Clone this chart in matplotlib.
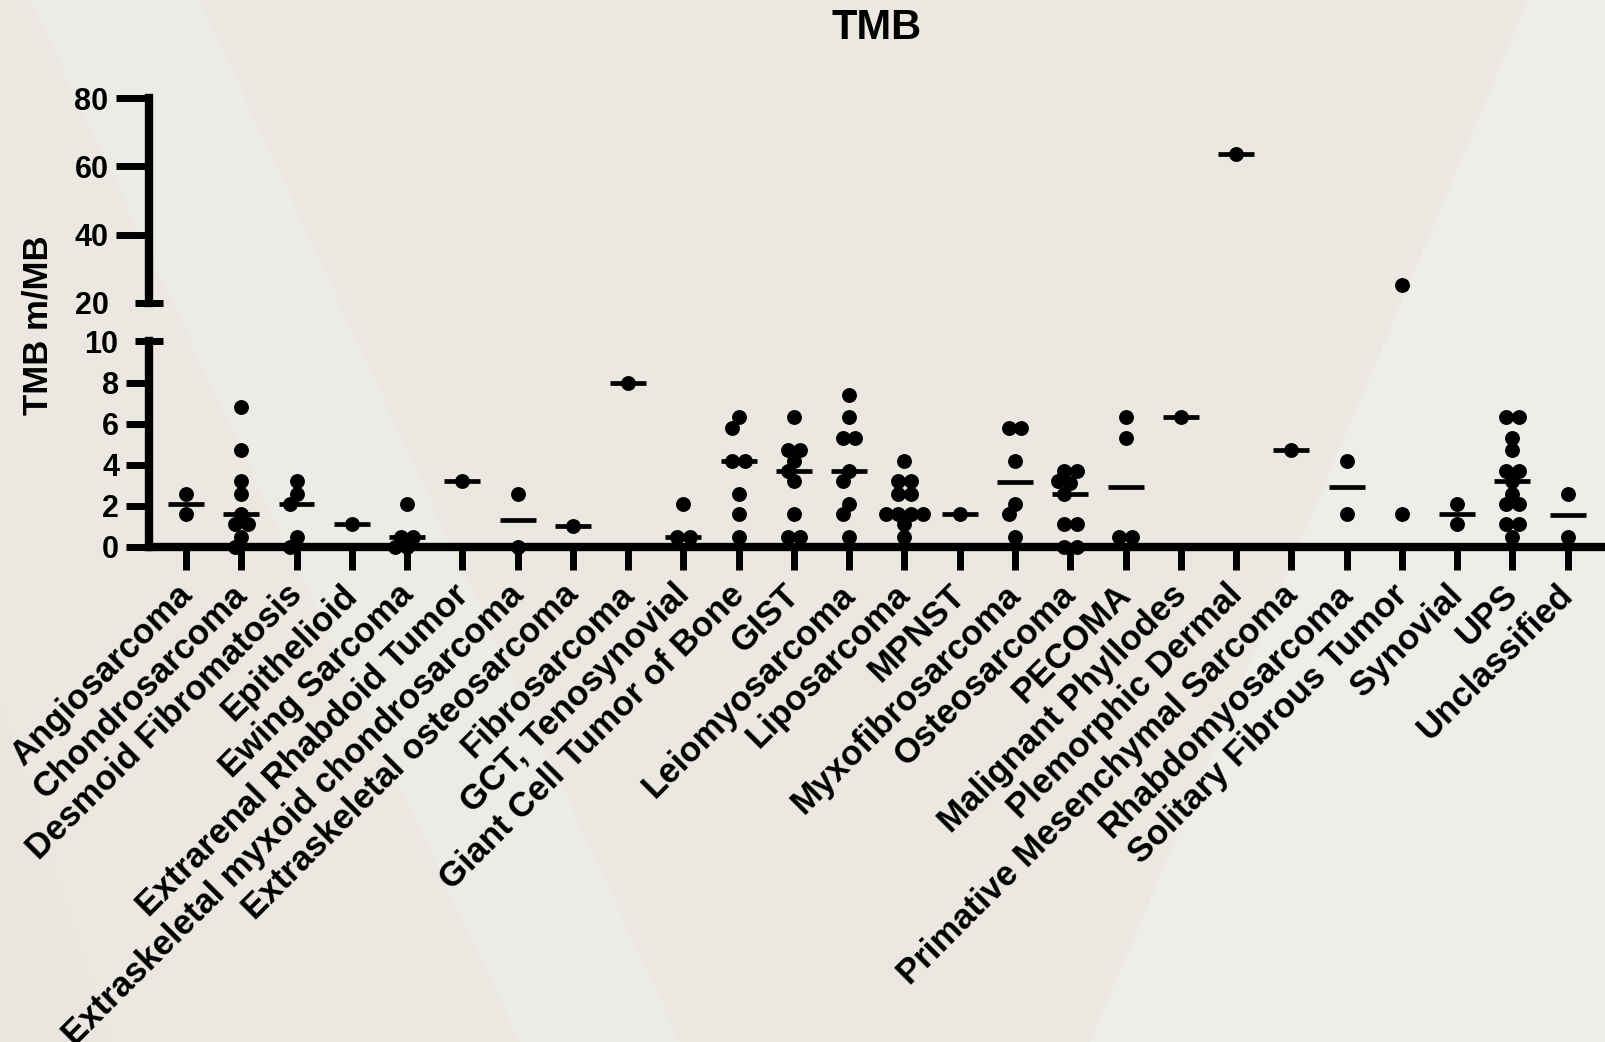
import numpy as np
import matplotlib
matplotlib.use("Agg")
import matplotlib.pyplot as plt
from matplotlib.patches import Polygon
from matplotlib.transforms import ScaledTranslation

# TMB per sarcoma subtype (m/MB)
categories = [
    "Angiosarcoma", "Chondrosarcoma", "Desmoid Fibromatosis", "Epithelioid",
    "Ewing Sarcoma", "Extrarenal Rhabdoid Tumor", "Extraskeletal myxoid chondrosarcoma",
    "Extraskeletal osteosarcoma", "Fibrosarcoma", "GCT, Tenosynovial",
    "Giant Cell Tumor of Bone", "GIST", "Leiomyosarcoma", "Liposarcoma", "MPNST",
    "Myxofibrosarcoma", "Osteosarcoma", "PECOMA", "Malignant Phyllodes",
    "Plemorphic Dermal", "Primative Mesenchymal Sarcoma", "Rhabdomyosarcoma",
    "Solitary Fibrous Tumor", "Synovial", "UPS", "Unclassified",
]

angiosarcoma = [2.6, 1.6]
chondrosarcoma = [6.8, 4.7, 3.2, 2.6, 1.6, 1.1, 1.1, 0.5, 0.0]
desmoid = [3.2, 2.6, 2.1, 0.5, 0.0]
epithelioid = [1.1]
ewing = [2.1, 0.5, 0.5, 0.0, 0.0]
extrarenal_rhabdoid = [3.2]
ext_myxoid_chondro = [2.6, 0.0]
ext_osteosarcoma = [1.0]
fibrosarcoma = [8.0]
gct_tenosynovial = [2.1, 0.5, 0.5]
gct_bone = [6.3, 5.8, 4.2, 4.2, 2.6, 1.6, 0.5]
gist = [6.3, 4.7, 4.7, 4.2, 3.7, 3.2, 1.6, 0.5, 0.5]
leiomyosarcoma = [7.4, 6.3, 5.3, 5.3, 3.7, 3.2, 2.1, 1.6, 0.5]
liposarcoma = [4.2, 3.2, 3.2, 2.6, 2.6, 1.6, 1.6, 1.6, 1.6, 1.1, 0.5]
mpnst = [1.6]
myxofibrosarcoma = [5.8, 5.8, 4.2, 2.1, 1.6, 0.5]
osteosarcoma = [3.7, 3.7, 3.2, 3.1, 2.6, 1.1, 1.1, 0.0, 0.0]
pecoma = [6.3, 5.3, 0.5, 0.5]
phyllodes = [6.3]
pleomorphic_dermal = [63.6]
primative_mesenchymal = [4.7]
rhabdomyosarcoma = [4.2, 1.6]
solitary_fibrous = [25.2, 1.6]
synovial = [2.1, 1.1]
ups = [6.3, 6.3, 5.3, 4.7, 3.7, 3.7, 3.2, 2.6, 2.1, 2.1, 1.1, 1.1, 0.5]
unclassified = [2.6, 0.5]

groups = [
    angiosarcoma, chondrosarcoma, desmoid, epithelioid, ewing, extrarenal_rhabdoid,
    ext_myxoid_chondro, ext_osteosarcoma, fibrosarcoma, gct_tenosynovial, gct_bone,
    gist, leiomyosarcoma, liposarcoma, mpnst, myxofibrosarcoma, osteosarcoma, pecoma,
    phyllodes, pleomorphic_dermal, primative_mesenchymal, rhabdomyosarcoma,
    solitary_fibrous, synovial, ups, unclassified,
]

low_ticks = [0, 2, 4, 6, 8]
high_ticks = [40, 60, 80]
low_lim = (0, 10)
high_lim = (20, 80)

plt.rcParams["font.family"] = ["Liberation Sans", "DejaVu Sans"]
plt.rcParams["font.weight"] = "bold"

W, H = 1605, 1042
fig = plt.figure(figsize=(W / 100, H / 100), dpi=100)
fig.patch.set_facecolor("#EBE8E2")


def px(x, y):
    return (x / W, 1 - y / H)


# faint watermark shapes in the background
for pts, col in [
    ([(1528, 0), (1605, 0), (1605, 1042), (1090, 1042)], "#EEEDE9"),
    ([(30, 0), (200, 0), (680, 1042), (520, 1042)], "#EDEBE6"),
    ([(0, 700), (0, 1042), (110, 1042)], "#E9E6E0"),
]:
    fig.add_artist(Polygon([px(*p) for p in pts], closed=True, transform=fig.transFigure,
                           facecolor=col, edgecolor="none", zorder=0))

left = 148.7 / W
ax_lo = fig.add_axes([left, 1 - 547 / H, 1 - left, 205.6 / H])
ax_hi = fig.add_axes([left, 1 - 302.7 / H, 1 - left, 204.4 / H])

step = 55.27
xlim = (-(186 - 148.7) / step, 25 + (W - 1567.7) / step)
spine_w = 6
tick_w = 5

for ax in (ax_lo, ax_hi):
    ax.set_facecolor("none")
    ax.set_xlim(*xlim)
    ax.spines["top"].set_visible(False)
    ax.spines["right"].set_visible(False)
    ax.spines["left"].set_linewidth(spine_w)

ax_lo.set_ylim(*low_lim)
ax_hi.set_ylim(*high_lim)
ax_lo.spines["bottom"].set_linewidth(spine_w)
ax_lo.spines["bottom"].set_capstyle("projecting")
ax_lo.spines["left"].set_capstyle("projecting")
ax_hi.spines["bottom"].set_visible(False)

# lower segment ticks, with the break mark at 10
ax_lo.set_yticks(low_ticks)
ax_lo.set_yticks([low_lim[1]], labels=[str(low_lim[1])], minor=True)
ax_lo.tick_params(axis="y", which="major", direction="out", length=16.3, width=tick_w, pad=5, labelsize=22)
ax_lo.tick_params(axis="y", which="minor", direction="inout", length=20, width=tick_w, pad=12, labelsize=22)

ax_lo.set_xticks(range(len(categories)))
ax_lo.set_xticklabels(categories, rotation=45, ha="right", va="top", rotation_mode="anchor")
ax_lo.tick_params(axis="x", direction="out", length=16.6, width=tick_w, pad=13, labelsize=25)
shift = ScaledTranslation(-0.11, 0.10, fig.dpi_scale_trans)
for lab in ax_lo.get_xticklabels():
    lab.set_transform(lab.get_transform() + shift)

# upper segment ticks, with the break mark at 20
ax_hi.set_yticks(high_ticks)
ax_hi.set_yticks([high_lim[0]], labels=[str(high_lim[0])], minor=True)
ax_hi.tick_params(axis="y", which="major", direction="out", length=24, width=tick_w, pad=5, labelsize=22)
ax_hi.tick_params(axis="y", which="minor", direction="inout", length=20, width=tick_w, pad=19, labelsize=22)
ax_hi.set_xticks([])

# pixel scales used to spread overlapping dots sideways
px_x = ax_lo.bbox.width / (xlim[1] - xlim[0])
px_lo = ax_lo.bbox.height / (low_lim[1] - low_lim[0])
px_hi = ax_hi.bbox.height / (high_lim[1] - high_lim[0])
diam = 12.5
min_gap = 0.92 * diam


def swarm(ypix):
    # equal values go in centred rows; a row slides sideways if it hits the one above
    rows = []
    for y in ypix:
        if rows and abs(rows[-1][-1] - y) < 3:
            rows[-1].append(y)
        else:
            rows.append([y])
    placed, offs = [], []
    for row in rows:
        n = len(row)
        base = [(k - (n - 1) / 2) * diam for k in range(n)]
        for s in [0] + [sg * k * diam / 2 for k in range(1, 12) for sg in (-1, 1)]:
            cand = [b + s for b in base]
            ok = all((cx - qx) ** 2 + (cy - qy) ** 2 >= min_gap ** 2
                     for cx, cy in zip(cand, row) for qx, qy in placed)
            if ok:
                break
        placed += list(zip(cand, row))
        offs += cand
    return offs


half = 0.325
for i, vals in enumerate(groups):
    vals = sorted(vals, reverse=True)
    lo = [v for v in vals if v <= low_lim[1]]
    hi = [v for v in vals if v >= high_lim[0]]
    for ax, pts, scale in ((ax_lo, lo, px_lo), (ax_hi, hi, px_hi)):
        if not pts:
            continue
        offs = swarm([v * scale for v in pts])
        ax.scatter([i + o / px_x for o in offs], pts, s=115, c="black",
                   linewidths=0, zorder=5, clip_on=False)
    med = np.median(vals)
    if med <= low_lim[1]:
        ax_lo.hlines(med, i - half, i + half, colors="black", lw=3.4, zorder=4)
    elif med >= high_lim[0]:
        ax_hi.hlines(med, i - half, i + half, colors="black", lw=3.4, zorder=4)

fig.text(876.7 / W, 1 - 39.3 / H, "TMB", ha="center", va="baseline", fontsize=30, fontweight="bold")
fig.text(38.5 / W, 1 - 325 / H, "TMB m/MB", rotation=90, ha="center", va="center",
         fontsize=25, fontweight="bold")

fig.savefig("out.png", dpi=100, facecolor=fig.get_facecolor())
